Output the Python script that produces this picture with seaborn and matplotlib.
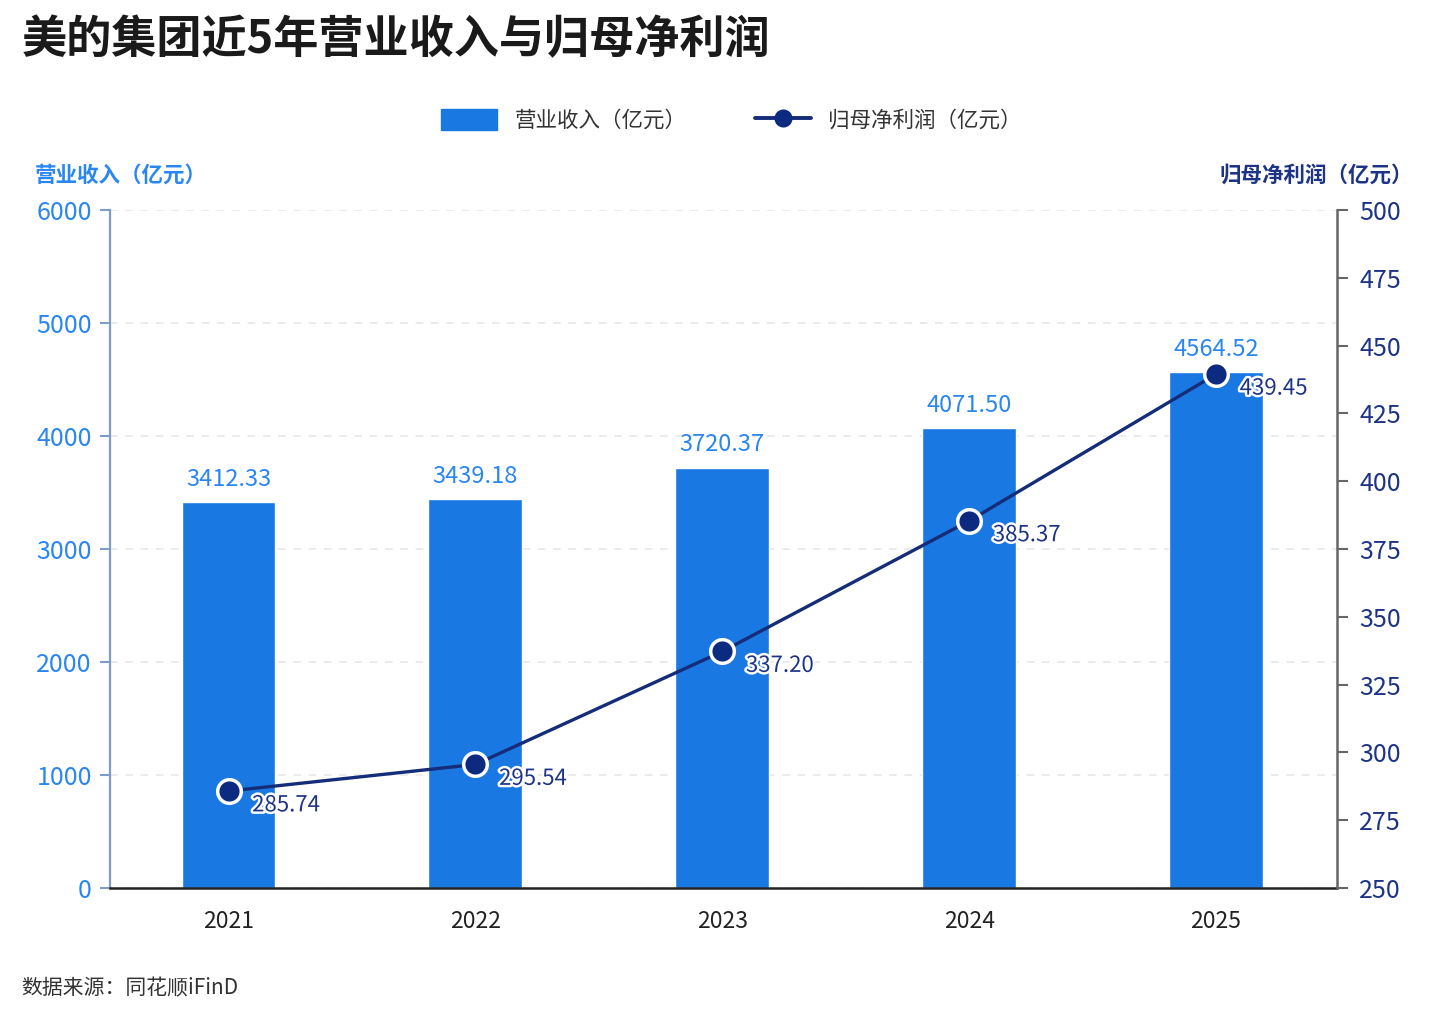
import numpy as np
import pandas as pd
import matplotlib.pyplot as plt
import matplotlib.patheffects as pe
from matplotlib.patches import Patch
from matplotlib.lines import Line2D
import seaborn as sns

# ---------------- data ----------------
years = ["2021", "2022", "2023", "2024", "2025"]
revenue = [3412.33, 3439.18, 3720.37, 4071.50, 4564.52]      # 营业收入（亿元）
net_profit = [285.74, 295.54, 337.20, 385.37, 439.45]        # 归母净利润（亿元）

left_ticks = [0, 1000, 2000, 3000, 4000, 5000, 6000]
right_ticks = [250, 275, 300, 325, 350, 375, 400, 425, 450, 475, 500]

df = pd.DataFrame({"year": years, "revenue": revenue, "profit": net_profit})
df["pos"] = np.arange(len(df))

# ---------------- style ----------------
sns.set_theme(style="white")
plt.rcParams["font.family"] = ["Noto Sans CJK SC", "DejaVu Sans"]

BAR = "#1a78e3"
BAR_TXT = "#2a86f0"
NAVY = "#152d78"
NAVY_DOT = "#0b2a80"
NAVY_TXT = "#1d3486"

fig = plt.figure(figsize=(14.4, 10.19), dpi=100)
ax = fig.add_axes([0.0764, 0.1286, 0.8521, 0.6653])

sns.barplot(data=df, x="year", y="revenue", order=years, color=BAR,
            width=0.38, saturation=1, ax=ax, zorder=2)
ax.set_ylim(0, 6000)
ax.set_xlim(-0.48, 4.49)
ax.set_yticks(left_ticks)
ax.set_xlabel("")
ax.set_ylabel("")
ax.yaxis.grid(True, color="#e6e6e6", linestyle=(0, (5, 5)), linewidth=1.1, zorder=0)
ax.set_axisbelow(True)
ax.tick_params(axis="y", colors="#7f9cc8", labelcolor=BAR_TXT, labelsize=18,
               length=7, width=1.5, left=True, pad=6)
ax.tick_params(axis="x", labelsize=16.5, labelcolor="#222222", length=0, pad=16)
for lab in ax.get_yticklabels() + ax.get_xticklabels():
    lab.set_fontweight("medium")

for i, v in enumerate(revenue):
    ax.annotate(f"{v:.2f}", (i, v), xytext=(0, 8), textcoords="offset points",
                ha="center", va="bottom", fontsize=17, color=BAR_TXT,
                fontweight="medium")

ax2 = ax.twinx()
sns.lineplot(data=df, x="pos", y="profit", ax=ax2, color=NAVY, linewidth=2.4,
             marker="o", markersize=17, markerfacecolor=NAVY_DOT,
             markeredgecolor="white", markeredgewidth=2.5, sort=False, zorder=5)
ax2.set_ylim(250, 500)
ax2.set_yticks(right_ticks)
ax2.set_xlabel("")
ax2.set_ylabel("")
ax2.tick_params(axis="y", colors="#666666", labelcolor=NAVY_TXT, labelsize=18,
                length=8, width=1.5, right=True, pad=8)
for lab in ax2.get_yticklabels():
    lab.set_fontweight("medium")

for i, v in enumerate(net_profit):
    ax2.annotate(f"{v:.2f}", (i, v), xytext=(17, -10), textcoords="offset points",
                 ha="left", va="center", fontsize=16, color=NAVY_TXT, zorder=6,
                 fontweight="medium",
                 path_effects=[pe.withStroke(linewidth=3.5, foreground="white")])

# spines
for a in (ax, ax2):
    for s in a.spines.values():
        s.set_visible(False)
ax.spines["left"].set_visible(True)
ax.spines["left"].set_color("#7f9cc8")
ax.spines["left"].set_linewidth(1.6)
ax.spines["bottom"].set_visible(True)
ax.spines["bottom"].set_color("#222222")
ax.spines["bottom"].set_linewidth(1.8)
ax2.spines["right"].set_visible(True)
ax2.spines["right"].set_color("#666666")
ax2.spines["right"].set_linewidth(1.8)

# axis titles
fig.text(0.024, 0.828, "营业收入（亿元）", fontsize=15.5, color=BAR_TXT,
         fontweight="bold", ha="left", va="center")
fig.text(0.981, 0.828, "归母净利润（亿元）", fontsize=15.5, color=NAVY_TXT,
         fontweight="bold", ha="right", va="center")

# legend
handles = [
    Patch(facecolor=BAR, edgecolor=BAR),
    Line2D([0], [0], color=NAVY, linewidth=2.8, marker="o", markersize=12,
           markerfacecolor=NAVY_DOT, markeredgecolor=NAVY_DOT),
]
leg = fig.legend(handles, ["营业收入（亿元）", "归母净利润（亿元）"], loc="center",
                 bbox_to_anchor=(0.508, 0.882), ncol=2, frameon=False, fontsize=15.5,
                 handlelength=2.6, handleheight=1.1, columnspacing=3.2,
                 handletextpad=0.8, labelcolor="#333333")
for t in leg.get_texts():
    t.set_fontweight("medium")

# title and source
fig.text(0.015, 0.961, "美的集团近5年营业收入与归母净利润", fontsize=32.5,
         fontweight="bold", color="#1a1a1a", ha="left", va="center")
fig.text(0.015, 0.030, "数据来源：同花顺iFinD", fontsize=15, color="#333333",
         fontweight="medium", ha="left", va="center")

fig.savefig("out.png", dpi=100, facecolor="white")
